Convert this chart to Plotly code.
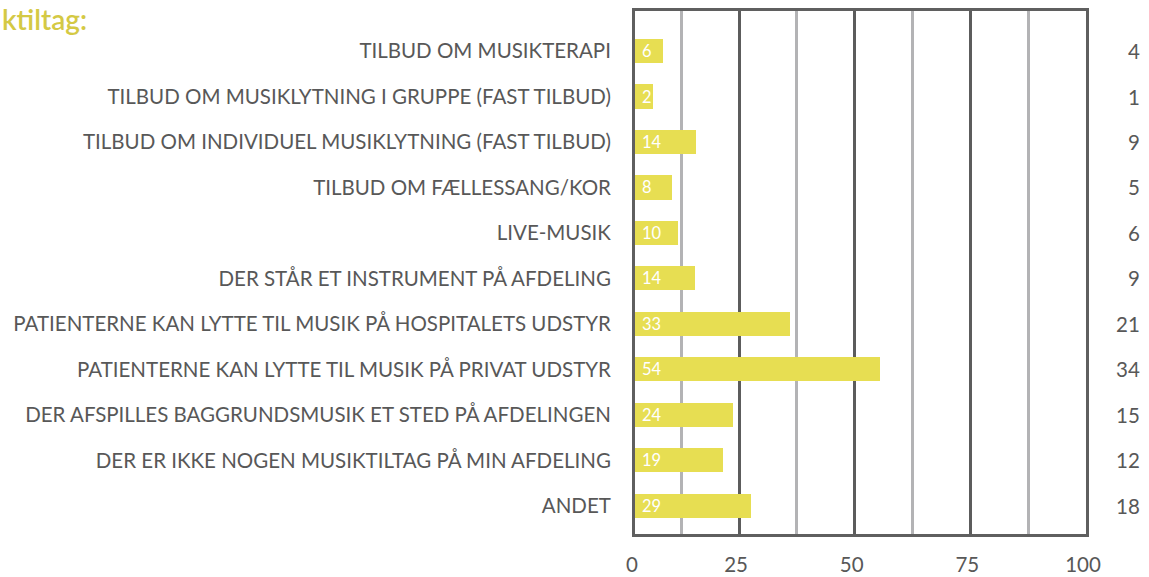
import plotly.graph_objects as go

title_text = "ktiltag:"
categories = [
    "TILBUD OM MUSIKTERAPI",
    "TILBUD OM MUSIKLYTNING I GRUPPE (FAST TILBUD)",
    "TILBUD OM INDIVIDUEL MUSIKLYTNING (FAST TILBUD)",
    "TILBUD OM FÆLLESSANG/KOR",
    "LIVE-MUSIK",
    "DER STÅR ET INSTRUMENT PÅ AFDELING",
    "PATIENTERNE KAN LYTTE TIL MUSIK PÅ HOSPITALETS UDSTYR",
    "PATIENTERNE KAN LYTTE TIL MUSIK PÅ PRIVAT UDSTYR",
    "DER AFSPILLES BAGGRUNDSMUSIK ET STED PÅ AFDELINGEN",
    "DER ER IKKE NOGEN MUSIKTILTAG PÅ MIN AFDELING",
    "ANDET",
]
# bar lengths as drawn (percent scale)
bar_lengths = [6.0, 3.9, 13.2, 8.0, 9.3, 13.0, 33.5, 53.0, 21.2, 19.0, 25.1]
# percent labels inside bars
percent_labels = [6, 2, 14, 8, 10, 14, 33, 54, 24, 19, 29]
# counts shown on the right
counts = [4, 1, 9, 5, 6, 9, 21, 34, 15, 12, 18]
tick_values = [0, 25, 50, 75, 100]

X_START = 2.5
FONT = "Lato"
TEXT_COLOR = "#585858"
BAR_COLOR = "#e7de52"
FS = 20.5

fig = go.Figure()
fig.add_trace(go.Bar(
    y=categories,
    x=bar_lengths,
    base=X_START,
    orientation="h",
    width=0.53,
    marker=dict(color=BAR_COLOR, line=dict(width=0)),
    hoverinfo="skip",
))

for cat, p in zip(categories, percent_labels):
    fig.add_annotation(
        x=X_START, xref="x", y=cat, yref="y", xshift=5,
        text=str(p), showarrow=False, xanchor="left", yanchor="middle",
        font=dict(family=FONT, size=16.5, color="white"),
    )

for cat, c in zip(categories, counts):
    fig.add_annotation(
        x=1.124, xref="paper", y=cat, yref="y",
        text=str(c), showarrow=False, xanchor="right", yanchor="middle",
        font=dict(family=FONT, size=FS, color=TEXT_COLOR),
    )

fig.add_annotation(
    x=-1.408, xref="paper", y=1.021, yref="paper",
    text=title_text, showarrow=False, xanchor="left", yanchor="top",
    font=dict(family=FONT, size=28, color="#d4c944", weight=600),
)

tickvals_pos = [X_START] + tick_values[1:]
fig.update_layout(
    width=1149, height=577,
    margin=dict(l=635, r=63, t=11, b=43, autoexpand=False),
    paper_bgcolor="white", plot_bgcolor="white",
    showlegend=False,
    bargap=0,
    xaxis=dict(
        range=[X_START, 100],
        tickvals=tickvals_pos,
        ticktext=[str(v) for v in tick_values],
        showgrid=True, gridcolor="#5c5c5c", gridwidth=2.5,
        minor=dict(tickvals=[12.5, 37.5, 62.5, 87.5], showgrid=True,
                   gridcolor="#b3b3b5", gridwidth=2.5, ticks=""),
        showline=True, mirror=True, linecolor="#5f5f5f", linewidth=3,
        zeroline=False, ticks="",
        automargin=False,
        ticklabelstandoff=10,
        ticklabelshift=-3,
        tickfont=dict(family=FONT, size=FS, color=TEXT_COLOR),
        fixedrange=True,
    ),
    yaxis=dict(
        categoryorder="array", categoryarray=categories,
        range=[10.62, -0.88],
        showgrid=False, zeroline=False,
        showline=True, mirror=True, linecolor="#5f5f5f", linewidth=3,
        ticks="",
        automargin=False,
        ticklabelstandoff=17,
        tickfont=dict(family=FONT, size=FS, color=TEXT_COLOR),
        fixedrange=True,
    ),
)

fig.write_html("out.html", config={"displayModeBar": False},
               post_script="document.body.style.margin='0';")
